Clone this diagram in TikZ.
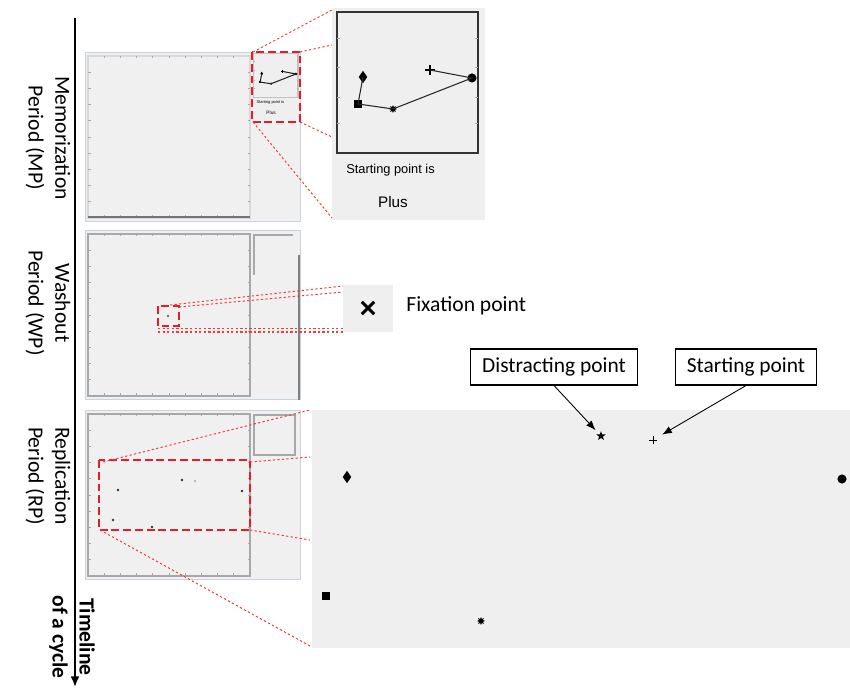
\documentclass[tikz,border=0pt]{standalone}
\usepackage{fontspec}
\setmainfont{Carlito}
\newfontfamily\arialfont{Liberation Sans}
\usetikzlibrary{shapes.geometric,shapes.misc,arrows.meta}

\definecolor{panelgray}{HTML}{F0F0F0}
\definecolor{insetgray}{HTML}{EFEFEF}
\definecolor{panelblue}{HTML}{C9D3DE}
\definecolor{framegray}{HTML}{A8A8A8}
\definecolor{boxred}{HTML}{E41E26}
\definecolor{linered}{HTML}{EE3B3B}

\tikzset{
  screen/.style={draw=panelblue, fill=panelgray, line width=0.5pt},
  plotframe/.style={draw=framegray, line width=0.8pt},
  plottick/.style={draw=framegray, line width=0.4pt},
  redbox/.style={draw=boxred, dash pattern=on 4.5pt off 2.2pt, line width=1.1pt},
  zoomline/.style={draw=linered, dash pattern=on 1.3pt off 1.3pt, line width=0.55pt},
  callout/.style={draw, line width=0.6pt, inner xsep=6.5pt, minimum height=20.5pt,
    font=\fontsize{12.2}{14.6}\selectfont},
  pointer/.style={-{Latex[length=5.5pt,width=4.2pt]}, line width=0.5pt},
  period/.style={rotate=-90, align=center, font=\fontsize{12.3}{15.3}\selectfont},
  dotmark/.style={circle, fill, inner sep=0pt, minimum size=5.2pt},
  sqmark/.style={rectangle, fill, inner sep=0pt, minimum size=4.3pt},
  diamark/.style={diamond, fill, inner sep=0pt, minimum width=5pt, minimum height=7.2pt},
  astmark/.style={star, star points=8, star point ratio=1.8, fill, inner sep=0pt, minimum size=4.5pt},
  starmark/.style={star, star points=5, star point ratio=2.4, fill, inner sep=0pt, minimum size=5.5pt},
  plusmark/.style={cross out, draw, rotate=45, inner sep=0pt, minimum size=3.2pt, line width=0.6pt},
}

% content of the memorization screen (local pixel coordinates), #1 = frame colour
\newcommand{\mpscreen}[1]{%
  \fill[insetgray] (0,0) rectangle (153,212);
  \draw[line width=0.8pt, draw=#1] (5,4) rectangle (146,145);
  \foreach \ty in {30,59,89,115} {
    \draw[plottick] (5,\ty) -- (8,\ty);
    \draw[plottick] (146,\ty) -- (143,\ty);
  }
  \node[diamark] (mpdia) at (31,69) {};
  \node[sqmark] (mpsq) at (26,96) {};
  \node[astmark] (mpast) at (61,101) {};
  \node[dotmark] (mpdot) at (140,70) {};
  \node[plusmark] (mpstart) at (98,62) {};
  \draw[line width=0.6pt, black!85] (mpdia.center) -- (mpsq.center) -- (mpast.center)
    -- (mpdot.center) -- (mpstart.center);
  \node[anchor=west, inner sep=0pt, font=\arialfont\fontsize{7.3}{9}\selectfont]
    (mpprompt) at (14,162) {Starting point is};
  \node[inner sep=0pt, font=\arialfont\fontsize{8.7}{10}\selectfont]
    (mpanswer) at (61,194) {Plus};
}

\begin{document}
\begin{tikzpicture}[x=0.02cm, y=-0.02cm]
    \useasboundingbox (0,0) rectangle (850,688);

    % Timeline
    \coordinate (tltop) at (75,18);
    \coordinate (tlend) at (75,687);
    \draw[line width=1.1pt, -{Latex[length=6pt,width=5pt]}] (tltop) -- (tlend);
    \node[period] (mplabel) at (48,138) {Memorization\\Period (MP)};
    \node[period] (wplabel) at (48,303) {Washout\\Period (WP)};
    \node[period] (rplabel) at (48,476) {Replication\\Period (RP)};
    \node[period, font=\fontsize{12.3}{15.3}\selectfont\bfseries] (tllabel) at (72,637) {Timeline\\of a cycle};

    % Screenshots of the three periods
    \foreach \py/\fc in {52/framegray!45, 230/framegray, 410/framegray} {
        \draw[screen] (85,\py) rectangle (300,\py+169);
        \draw[plotframe, draw=\fc] (88,\py+4) rectangle (250,\py+166);
        \foreach \k in {1,...,9} {
            \draw[plottick] ({88+16.2*\k},\py+4) -- ++(0,2.5);
            \draw[plottick] ({88+16.2*\k},\py+166) -- ++(0,-2.5);
            \draw[plottick] (88,{\py+4+16.2*\k}) -- ++(2.5,0);
            \draw[plottick] (250,{\py+4+16.2*\k}) -- ++(-2.5,0);
        }
    }

    % Memorization period
    \draw[black!55, line width=0.8pt] (88,217) -- (250,217);
    \begin{scope}[shift={(252,52)}, scale=0.314, transform shape]
        \mpscreen{framegray!70}
    \end{scope}
    \draw[redbox] (252,52) rectangle (300,122);
    \begin{scope}[shift={(332,8)}]
        \mpscreen{black!80}
    \end{scope}
    \draw[zoomline] (253,52) -- (332,10);
    \draw[zoomline] (300,52) -- (332,45);
    \draw[zoomline] (300,122) -- (332,137);
    \draw[zoomline] (253,122) -- (332,218);

    % Washout period
    \draw[framegray, line width=0.8pt] (254,275) -- (254,235) -- (293,235);
    \draw[black!50, line width=0.8pt] (299,255) -- (299,400);
    \fill[black!70] (168,316) circle (1.2);
    \draw[redbox] (158,306) rectangle (179,326);
    \fill[insetgray] (343,285) rectangle (393,332);
    \node[cross out, draw, line width=1.7pt, minimum size=5.3pt, inner sep=0pt] (fixmark) at (368,308) {};
    \node[anchor=base west, inner sep=0pt, font=\fontsize{12.3}{15}\selectfont] (fixlabel) at (406,312) {Fixation point};
    \draw[zoomline] (170,305) -- (343,286);
    \draw[zoomline] (179,307) -- (343,292);
    \draw[zoomline, line width=0.7pt] (158,328.5) -- (343,328.5);
    \draw[zoomline, line width=0.7pt] (158,332) -- (343,332);

    % Replication period
    \draw[plotframe] (254,415) rectangle (295,455);
    \foreach \dx/\dy in {118/490, 182/480, 242/491, 113/520, 152/527}
        \fill[black!80] (\dx,\dy) circle (1.3);
    \fill[black!35] (195,481) circle (1.2);
    \draw[redbox] (99,460) rectangle (250,530);
    \fill[insetgray] (312,410) rectangle (850,648);
    \draw[zoomline] (103,462) -- (310,410);
    \draw[zoomline] (250,462) -- (310,457);
    \draw[zoomline] (250,530) -- (310,540);
    \draw[zoomline] (100,530) -- (310,646);

    \node[starmark] (rpstar) at (601,436) {};
    \node[plusmark, minimum size=2.5pt, line width=0.5pt] (rpstart) at (653,440) {};
    \node[diamark] (rpdia) at (347,477) {};
    \node[dotmark] (rpdot) at (842,479) {};
    \node[sqmark, minimum size=4pt] (rpsq) at (326,596) {};
    \node[astmark] (rpast) at (481,621) {};

    \node[callout] (distract) at (554,367) {Distracting point};
    \node[callout] (startlbl) at (746,367) {Starting point};
    \draw[pointer, shorten >=3pt] (distract.south) -- (rpstar);
    \draw[pointer, shorten >=4.5pt] (startlbl.south) -- (rpstart);
\end{tikzpicture}
\end{document}
